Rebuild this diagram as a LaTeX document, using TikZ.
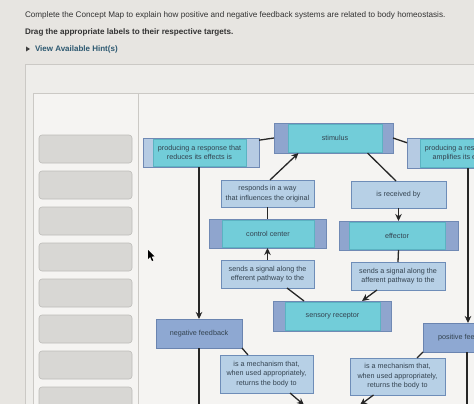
\documentclass[tikz,border=0pt]{standalone}
\usepackage{fontspec}
\setmainfont{Liberation Sans}
\usetikzlibrary{arrows.meta,calc}
\definecolor{bgc}{HTML}{E7E5E1}
\definecolor{panelc}{HTML}{EEEDEA}
\definecolor{framec}{HTML}{CBC9C5}
\definecolor{slotc}{HTML}{D8D7D4}
\definecolor{slotb}{HTML}{BDBCB9}
\definecolor{tabc}{HTML}{8FA5CE}
\definecolor{tabb}{HTML}{7089B4}
\definecolor{tablc}{HTML}{B6CBE3}
\definecolor{tealc}{HTML}{72CDD9}
\definecolor{tealb}{HTML}{5BB3C2}
\definecolor{lblc}{HTML}{B7D0E6}
\definecolor{lblb}{HTML}{6E8DB8}
\definecolor{fbc}{HTML}{8EA8D2}
\definecolor{fbb}{HTML}{6A84B0}
\definecolor{txtc}{HTML}{33424F}
\definecolor{linec}{HTML}{262626}
\definecolor{hintc}{HTML}{2C5870}
\begin{document}
\begin{tikzpicture}[x=1pt,y=-1pt,
  every node/.style={inner sep=0pt, outer sep=0pt},
  ntext/.style={align=center, text=txtc, font=\fontsize{7.2}{9.5}\selectfont},
  tabbox/.style={fill=tabc, draw=tabb, line width=0.6pt},
  tabboxl/.style={fill=tablc, draw=tabb, line width=0.6pt},
  tealbox/.style={fill=tealc, draw=tealb, line width=0.5pt, ntext},
  lblbox/.style={fill=lblc, draw=lblb, line width=0.8pt, ntext},
  fbbox/.style={fill=fbc, draw=fbb, line width=0.8pt, ntext},
  slot/.style={fill=slotc, draw=slotb, line width=0.6pt, rounded corners=3pt, minimum width=93pt, minimum height=28pt},
  conn/.style={draw=linec, line width=1.3pt},
  arr/.style={conn, -{Stealth[length=7pt,width=6.5pt]}}
]
\useasboundingbox (0,0) rectangle (474,404);
\fill[bgc] (0,0) rectangle (474,404);
% panels
\draw[framec, fill=panelc, line width=0.8pt] (25,64) rectangle (490,420);
\draw[framec, fill=panelc!60!white, line width=0.8pt] (33,93) rectangle (490,420);
\draw[framec, line width=0.8pt] (138,93) -- (138,420);
% header text
\node[anchor=base west, text=black!80, font=\fontsize{8.15}{9}\selectfont] (title) at (25,18) {Complete the Concept Map to explain how positive and negative feedback systems are related to body homeostasis.};
\node[anchor=base west, text=black!80, font=\bfseries\fontsize{8.1}{9}\selectfont] (drag) at (25,35) {Drag the appropriate labels to their respective targets.};
\fill[black!75] (26,46.5) -- (30,49) -- (26,51.5) -- cycle;
\node[anchor=base west, text=hintc, font=\bfseries\fontsize{8}{9}\selectfont] (hint) at (35,52) {View Available Hint(s)};
% slots
\foreach \i/\y in {1/149,2/185,3/221,4/257,5/293,6/329,7/365,8/401}
  \node[slot] (slot\i) at (85.5,\y) {};
% cursor
\fill[black] (148,250) -- (148,259) -- (150.2,257) -- (152,261) -- (153.3,260.4) -- (151.5,256.6) -- (154.5,256.4) -- cycle;
% concept boxes with tabs
\node[tabboxl, minimum width=116pt, minimum height=29pt] (prodL) at (201,152.5) {};
\node[tealbox, minimum width=93pt, minimum height=27pt] (prodLi) at (199.5,152.5) {producing a response that\\reduces its effects is};
\node[tabbox, minimum width=119pt, minimum height=30pt] (stim) at (333.5,138) {};
\node[tealbox, minimum width=94pt, minimum height=28pt] (stimi) at (335,138) {stimulus};
\node[tabboxl, minimum width=116pt, minimum height=30pt] (prodR) at (465,153) {};
\node[tealbox, minimum width=93pt, minimum height=28pt] (prodRi) at (466.5,153) {producing a response that\\amplifies its effects is};
\node[tabbox, minimum width=117pt, minimum height=29pt] (ctrl) at (267.5,233.5) {};
\node[tealbox, minimum width=92pt, minimum height=27pt] (ctrli) at (268,233.5) {control center};
\node[tabbox, minimum width=119pt, minimum height=29pt] (eff) at (398.5,235.5) {};
\node[tealbox, minimum width=96pt, minimum height=27pt] (effi) at (397,235.5) {effector};
\node[tabbox, minimum width=118pt, minimum height=30pt] (sens) at (332,316) {};
\node[tealbox, minimum width=95pt, minimum height=28pt] (sensi) at (332.5,316) {sensory receptor};
% linking labels
\node[lblbox, minimum width=93pt, minimum height=27pt] (resp) at (267.5,193.5) {responds in a way\\that influences the original};
\node[lblbox, minimum width=95pt, minimum height=27pt] (recv) at (398.5,194.5) {is received by};
\node[lblbox, minimum width=93pt, minimum height=28pt] (effsig) at (267.5,274) {sends a signal along the\\efferent pathway to the};
\node[lblbox, minimum width=94pt, minimum height=28pt] (affsig) at (398,276) {sends a signal along the\\afferent pathway to the};
\node[lblbox, minimum width=93pt, minimum height=38pt] (mechA) at (266.5,374) {is a mechanism that,\\when used appropriately,\\returns the body to};
\node[lblbox, minimum width=95pt, minimum height=37pt] (mechB) at (397.5,376.5) {is a mechanism that,\\when used appropriately,\\returns the body to};
% feedback boxes
\node[fbbox, minimum width=86pt, minimum height=29pt] (neg) at (199,333.5) {negative feedback};
\node[fbbox, minimum width=86pt, minimum height=29pt] (pos) at (466,337.5) {positive feedback};
% free ends
\coordinate (bot) at (0,410);
\coordinate (endA) at (304,405);
\coordinate (endB) at (360,405);
% connectors
\draw[conn] (prodL.12) -- (stim.west);
\draw[conn] (stim.east) -- (prodR.170);
\draw[arr] ([xshift=2.5pt]resp.north) -- ([xshift=-35pt]stim.south);
\draw[conn] ([xshift=34pt]stim.south) -- ([xshift=-2.5pt]recv.north);
\draw[arr] (recv.south) -- (eff.north);
\draw[conn] (resp.south) -- (ctrl.north);
\draw[arr] (effsig.north) -- (ctrl.south);
\draw[conn] ([xshift=19.5pt]effsig.south) -- ([xshift=-28pt]sens.north);
\draw[conn] (eff.south) -- (affsig.north);
\draw[arr] ([xshift=-21pt]affsig.south) -- ([xshift=30pt]sens.north);
\draw[arr] (neg.north |- prodL.south) -- (neg.north);
\draw[arr] ([xshift=2pt]pos.north |- prodR.south) -- ([xshift=2pt]pos.north);
\draw[conn] (neg.south east) -- ([xshift=-18.5pt]mechA.north);
\draw[conn] (neg.south) -- (neg.south |- bot);
\draw[arr] ([xshift=23.5pt]mechA.south) -- (endA);
\draw[conn] (pos.south west) -- ([xshift=19.5pt]mechB.north);
\draw[conn] ([xshift=1pt]pos.south) -- ([xshift=1pt]pos.south |- bot);
\draw[arr] ([xshift=-24pt]mechB.south) -- (endB);
\end{tikzpicture}
\end{document}
